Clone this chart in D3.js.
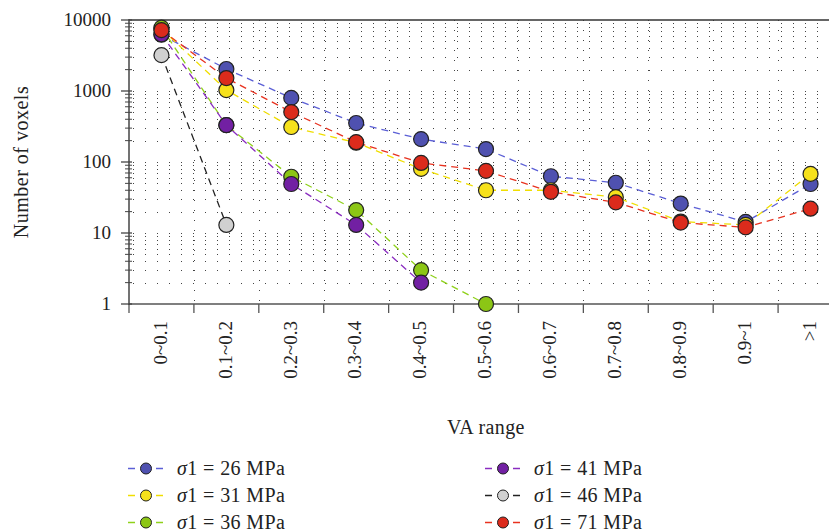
<!DOCTYPE html>
<html>
<head>
<meta charset="utf-8">
<script src="https://cdn.jsdelivr.net/npm/d3@7"></script>
<style>
  body { margin: 0; background: #fff; }
  svg { display: block; }
</style>
</head>
<body>
<div class="chart"></div>
<script>
// Paramètres
const width = 829;
const height = 531;
const margin = { top: 20, right: -14, bottom: 227, left: 129 };

const categories = ["0~0.1", "0.1~0.2", "0.2~0.3", "0.3~0.4", "0.4~0.5", "0.5~0.6",
  "0.6~0.7", "0.7~0.8", "0.8~0.9", "0.9~1", ">1"];

const stressLevels = [26, 31, 36, 41, 46, 71];

// nombre de voxels par classe (null = pas de point)
const s26 = [6200, 2040, 800, 354, 210, 152, 63, 51, 26, 14.3, 49];
const s31 = [7500, 1030, 311, 187, 80, 40, 40, 32, 14.5, 13, 68];
const s36 = [7800, 330, 62, 21, 3, 1, null, null, null, null, null];
const s41 = [6300, 331, 49, 13, 2, null, null, null, null, null, null];
const s46 = [3200, 13, null, null, null, null, null, null, null, null, null];
const s71 = [7200, 1520, 505, 190, 97, 75, 38, 27, 14, 12, 22];

const yTicks = [1, 10, 100, 1000, 10000];

const fills = ["#4f51b0", "#f6e11b", "#8cc615", "#7220a3", "#d0d0d0", "#dc2b1c"];
const strokes = ["#5b5fd6", "#f0de00", "#8fd11a", "#8a2cc0", "#222222", "#e8321f"];

const series = [s26, s31, s36, s41, s46, s71].map((values, i) => ({
  mpa: stressLevels[i],
  fill: fills[i],
  stroke: strokes[i],
  points: values.map((v, j) => ({ cat: categories[j], value: v }))
}));

const font = "'Liberation Serif', 'DejaVu Serif', serif";

const svg = d3.select('.chart')
  .append('svg')
  .attr('width', width)
  .attr('height', height)
  .style('font-family', font);

const x = d3.scaleBand()
  .domain(categories)
  .range([margin.left, width - margin.right])
  .padding(0);

const y = d3.scaleLog()
  .domain([1, 10000])
  .range([height - margin.bottom, margin.top]);

const x0 = margin.left, x1 = width - margin.right;
const yb = y(1), yt = y(10000);

// grille pointillée
const minorVals = [];
[1, 10, 100, 1000].forEach(d => { for (let k = 1; k <= 9; k++) if (d * k > 1) minorVals.push(d * k); });

const grid = svg.append('g')
  .attr('stroke', '#444')
  .attr('stroke-width', 1);

grid.selectAll('line.h')
  .data(minorVals)
  .join('line')
    .attr('class', 'h')
    .attr('x1', x0 + 4).attr('x2', x1)
    .attr('y1', d => Math.round(y(d)) + 0.5)
    .attr('y2', d => Math.round(y(d)) + 0.5)
    .attr('stroke-dasharray', '1,11');

grid.selectAll('line.v')
  .data(categories.slice(1))
  .join('line')
    .attr('class', 'v')
    .attr('x1', d => Math.round(x(d)) + 0.5)
    .attr('x2', d => Math.round(x(d)) + 0.5)
    .attr('y1', yt).attr('y2', yb)
    .attr('stroke-dasharray', '1,9');

// cadre haut
svg.append('line')
  .attr('x1', x0).attr('x2', width)
  .attr('y1', yt).attr('y2', yt)
  .attr('stroke', '#333').attr('stroke-width', 1.5);

// axe x
const xAxis = svg.append('g')
  .attr('transform', `translate(0, ${yb})`);
xAxis.append('line')
  .attr('x1', x0).attr('x2', width)
  .attr('stroke', '#555').attr('stroke-width', 1.5);
xAxis.selectAll('line.tick')
  .data(categories)
  .join('line')
    .attr('class', 'tick')
    .attr('x1', d => x(d)).attr('x2', d => x(d))
    .attr('y1', 0).attr('y2', 9)
    .attr('stroke', '#555').attr('stroke-width', 1.3);
xAxis.selectAll('text')
  .data(categories)
  .join('text')
    .attr('transform', d => `translate(${x(d) + x.bandwidth() / 2 - 1}, 17) rotate(-90)`)
    .attr('text-anchor', 'end')
    .attr('dy', '0.33em')
    .attr('font-size', 19)
    .attr('fill', '#222')
    .text(d => d);

// axe y
const yAxis = svg.append('g')
  .attr('transform', `translate(${x0}, 0)`);
yAxis.append('line')
  .attr('y1', yt - 1).attr('y2', yb + 1)
  .attr('stroke', '#444').attr('stroke-width', 1.5);
yAxis.selectAll('line.minor')
  .data(minorVals.filter(v => !yTicks.includes(v)))
  .join('line')
    .attr('class', 'minor')
    .attr('x1', -4).attr('x2', 3)
    .attr('y1', d => y(d)).attr('y2', d => y(d))
    .attr('stroke', '#444');
yAxis.selectAll('line.major')
  .data(yTicks)
  .join('line')
    .attr('class', 'major')
    .attr('x1', -8).attr('x2', 3)
    .attr('y1', d => y(d)).attr('y2', d => y(d))
    .attr('stroke', '#444').attr('stroke-width', 1.3);
yAxis.selectAll('text')
  .data(yTicks)
  .join('text')
    .attr('x', -18)
    .attr('y', d => y(d))
    .attr('dy', '0.33em')
    .attr('text-anchor', 'end')
    .attr('font-size', 19)
    .attr('fill', '#222')
    .text(d => d);

svg.append('text')
  .attr('transform', `translate(28, ${(yt + yb) / 2}) rotate(-90)`)
  .attr('text-anchor', 'middle')
  .attr('font-size', 20)
  .attr('letter-spacing', 0.5)
  .attr('fill', '#222')
  .text('Number of voxels');

svg.append('text')
  .attr('x', 486)
  .attr('y', 434)
  .attr('text-anchor', 'middle')
  .attr('font-size', 20)
  .attr('letter-spacing', 0.4)
  .attr('fill', '#222')
  .text('VA range');

// courbes
const line = d3.line()
  .defined(d => d.value != null)
  .x(d => x(d.cat) + x.bandwidth() / 2)
  .y(d => y(d.value));

svg.append('g')
  .attr('fill', 'none')
  .attr('stroke-width', 1.3)
  .attr('stroke-dasharray', '7,5')
  .selectAll('path')
  .data(series)
  .join('path')
    .attr('stroke', d => d.stroke)
    .attr('d', d => line(d.points));

svg.append('g')
  .selectAll('g')
  .data(series)
  .join('g')
    .attr('fill', d => d.fill)
    .selectAll('circle')
    .data(d => d.points.filter(p => p.value != null))
    .join('circle')
      .attr('cx', d => x(d.cat) + x.bandwidth() / 2)
      .attr('cy', d => y(d.value))
      .attr('r', 7.5)
      .attr('stroke', '#222')
      .attr('stroke-width', 1.2);

// légende
const legend = svg.append('g')
  .selectAll('g')
  .data(series)
  .join('g')
    .attr('transform', (d, i) => `translate(${i < 3 ? 128 : 485}, ${468.5 + (i % 3) * 27})`);

legend.append('line')
  .attr('x1', 0).attr('x2', 7)
  .attr('stroke', d => d.stroke).attr('stroke-width', 1.5);
legend.append('line')
  .attr('x1', 28).attr('x2', 35)
  .attr('stroke', d => d.stroke).attr('stroke-width', 1.5);
legend.append('circle')
  .attr('cx', 18)
  .attr('r', 5.5)
  .attr('fill', d => d.fill)
  .attr('stroke', '#222')
  .attr('stroke-width', 1);

const lt = legend.append('text')
  .attr('x', 49)
  .attr('dy', '0.33em')
  .attr('font-size', 20)
  .attr('letter-spacing', 0.4)
  .attr('fill', '#222');
lt.append('tspan').attr('font-style', 'italic').text('σ');
lt.append('tspan').text(d => `1 = ${d.mpa} MPa`);
</script>
</body>
</html>
